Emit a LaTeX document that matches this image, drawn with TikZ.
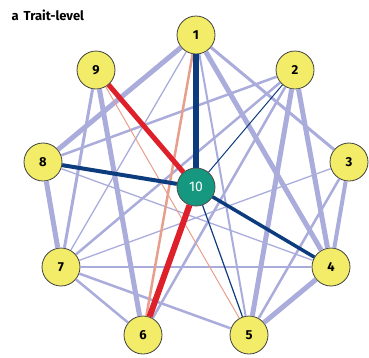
\documentclass[tikz,border=0pt]{standalone}
\usepackage{fontspec}
\setmainfont{Fira Sans}
\definecolor{lav}{RGB}{170,172,219}
\definecolor{navy}{RGB}{12,60,126}
\definecolor{redE}{RGB}{222,32,42}
\definecolor{salm}{RGB}{232,158,140}
\definecolor{nodeY}{RGB}{242,236,104}
\definecolor{tealC}{RGB}{22,152,128}
\begin{document}
\begin{tikzpicture}[x=1pt,y=-1pt,
  tr/.style={circle,draw=black!75,line width=0.8pt,fill=nodeY,minimum size=38pt,inner sep=0pt,font=\fontsize{13}{13}\selectfont\bfseries},
  ctr/.style={circle,draw=black!70,line width=0.8pt,fill=tealC,text=white,minimum size=38pt,inner sep=0pt,font=\fontsize{14}{14}\selectfont},
  lv/.style={draw=lav,line width=#1},
  nv/.style={draw=navy,line width=#1},
  rd/.style={draw=redE,line width=#1},
  sm/.style={draw=salm,line width=#1}
]
\useasboundingbox (0,0) rectangle (369,357);
\node[anchor=west,font=\fontsize{13}{13}\selectfont\bfseries] (title) at (8,15) {a\hspace{5pt}Trait-level};
\node[tr] (n1) at (196,35) {1};
\node[tr] (n2) at (295,70) {2};
\node[tr] (n3) at (349,162) {3};
\node[tr] (n4) at (331,267) {4};
\node[tr] (n5) at (249,335) {5};
\node[tr] (n6) at (143,335) {6};
\node[tr] (n7) at (61,267) {7};
\node[tr] (n8) at (43,162) {8};
\node[tr] (n9) at (96,70) {9};
\node[ctr] (n10) at (196,187) {10};
% lavender edges
\draw[lv=5pt] (n8) -- (n7);
\draw[lv=5pt] (n9) -- (n6);
\draw[lv=5pt] (n1) -- (n8);
\draw[lv=5pt] (n1) -- (n4);
\draw[lv=5pt] (n2) -- (n5);
\draw[lv=5pt] (n2) -- (n4);
\draw[lv=5pt] (n4) -- (n5);
\draw[lv=3pt] (n1) -- (n3);
\draw[lv=3pt] (n9) -- (n7);
\draw[lv=2.5pt] (n2) -- (n6);
\draw[lv=2.5pt] (n5) -- (n3);
\draw[lv=2.5pt] (n7) -- (n5);
\draw[lv=2.5pt] (n7) -- (n6);
\draw[lv=4pt] (n3) -- (n4);
\draw[lv=2.5pt] (n7) -- (n2);
\draw[lv=2.5pt] (n2) -- (n8);
\draw[lv=2pt] (n1) -- (n5);
\draw[lv=1.3pt] (n1) -- (n7);
\draw[lv=1.3pt] (n7) -- (n3);
\draw[lv=1.5pt] (n7) -- (n4);
\draw[lv=1.3pt] (n8) -- (n4);
% salmon
\draw[sm=2.5pt] (n1) -- (n6);
\draw[sm=1pt] (n9) -- (n5);
% red
\draw[rd=5pt] (n9) -- (n10);
\draw[rd=6pt] (n6) -- (n10);
% navy
\draw[nv=6pt] (n1) -- (n10);
\draw[nv=4pt] (n8) -- (n10);
\draw[nv=3.5pt] (n4) -- (n10);
\draw[nv=1pt] (n2) -- (n10);
\draw[nv=1.2pt] (n5) -- (n10);
\end{tikzpicture}
\end{document}
